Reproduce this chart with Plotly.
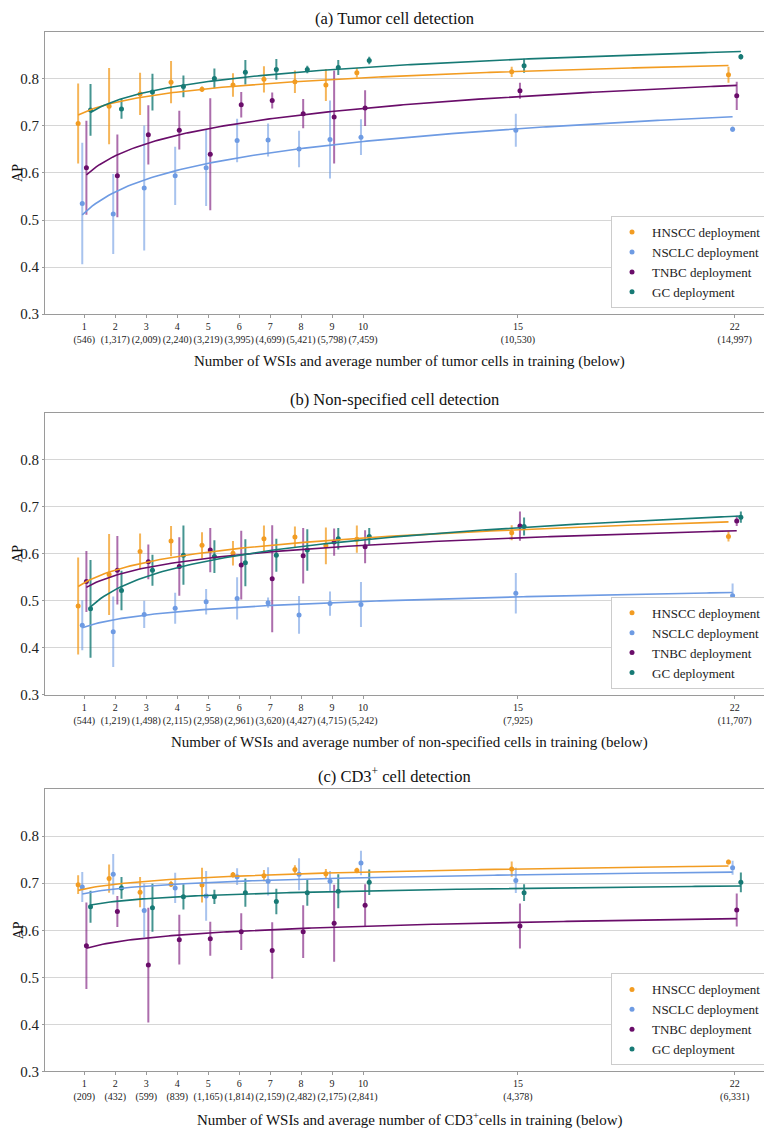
import numpy as np
import plotly.graph_objects as go

# ---------------- data ----------------
wsis = [1, 2, 3, 4, 5, 6, 7, 8, 9, 10, 15, 22]

cells_tumor = ["546", "1,317", "2,009", "2,240", "3,219", "3,995", "4,699", "5,421", "5,798", "7,459", "10,530", "14,997"]
cells_nonspec = ["544", "1,219", "1,498", "2,115", "2,958", "2,961", "3,620", "4,427", "4,715", "5,242", "7,925", "11,707"]
cells_cd3 = ["209", "432", "599", "839", "1,165", "1,814", "2,159", "2,482", "2,175", "2,841", "4,378", "6,331"]

series_names = ["HNSCC deployment", "NSCLC deployment", "TNBC deployment", "GC deployment"]

# (a) Tumor cell detection
tumor_hnscc = [0.705, 0.742, 0.768, 0.793, 0.778, 0.787, 0.799, 0.794, 0.787, 0.813, 0.815, 0.809]
tumor_hnscc_err = [0.085, 0.081, 0.045, 0.045, 0.006, 0.025, 0.028, 0.024, 0.034, 0.010, 0.011, 0.017]
tumor_nsclc = [0.535, 0.513, 0.568, 0.594, 0.611, 0.669, 0.670, 0.651, 0.671, 0.676, 0.691, 0.693]
tumor_nsclc_err = [0.129, 0.085, 0.133, 0.062, 0.081, 0.046, 0.035, 0.039, 0.083, 0.038, 0.035, 0.006]
tumor_tnbc = [0.611, 0.594, 0.681, 0.691, 0.640, 0.745, 0.754, 0.726, 0.719, 0.738, 0.775, 0.764]
tumor_tnbc_err = [0.100, 0.088, 0.063, 0.041, 0.119, 0.027, 0.017, 0.031, 0.099, 0.038, 0.017, 0.030]
tumor_gc = [0.734, 0.736, 0.772, 0.784, 0.801, 0.814, 0.820, 0.820, 0.824, 0.839, 0.828, 0.847]
tumor_gc_err = [0.055, 0.021, 0.039, 0.023, 0.021, 0.026, 0.022, 0.008, 0.016, 0.008, 0.015, 0.006]

# (b) Non-specified cell detection
nonspec_hnscc = [0.489, 0.556, 0.605, 0.627, 0.618, 0.601, 0.632, 0.636, 0.617, 0.631, 0.645, 0.637]
nonspec_hnscc_err = [0.103, 0.086, 0.038, 0.032, 0.028, 0.026, 0.028, 0.022, 0.039, 0.029, 0.016, 0.011]
nonspec_nsclc = [0.448, 0.434, 0.471, 0.484, 0.498, 0.505, 0.496, 0.470, 0.494, 0.492, 0.516, 0.511]
nonspec_nsclc_err = [0.053, 0.075, 0.029, 0.033, 0.027, 0.045, 0.011, 0.040, 0.026, 0.048, 0.043, 0.026]
nonspec_tnbc = [0.541, 0.565, 0.583, 0.573, 0.608, 0.576, 0.547, 0.596, 0.625, 0.615, 0.659, 0.670]
nonspec_tnbc_err = [0.065, 0.073, 0.037, 0.062, 0.047, 0.073, 0.114, 0.059, 0.029, 0.035, 0.031, 0.011]
nonspec_gc = [0.483, 0.522, 0.565, 0.597, 0.594, 0.581, 0.597, 0.608, 0.632, 0.637, 0.658, 0.678]
nonspec_gc_err = [0.104, 0.042, 0.033, 0.063, 0.035, 0.050, 0.035, 0.044, 0.023, 0.018, 0.019, 0.012]

# (c) CD3+ cell detection
cd3_hnscc = [0.697, 0.710, 0.681, 0.698, 0.696, 0.718, 0.716, 0.729, 0.720, 0.727, 0.730, 0.745]
cd3_hnscc_err = [0.020, 0.030, 0.032, 0.006, 0.037, 0.006, 0.012, 0.009, 0.010, 0.006, 0.016, 0.005]
cd3_nsclc = [0.692, 0.719, 0.642, 0.690, 0.673, 0.714, 0.704, 0.719, 0.704, 0.743, 0.706, 0.733]
cd3_nsclc_err = [0.032, 0.043, 0.057, 0.032, 0.053, 0.018, 0.030, 0.034, 0.022, 0.026, 0.027, 0.015]
cd3_tnbc = [0.567, 0.640, 0.526, 0.580, 0.582, 0.597, 0.557, 0.597, 0.615, 0.653, 0.609, 0.643]
cd3_tnbc_err = [0.092, 0.033, 0.122, 0.053, 0.036, 0.039, 0.060, 0.056, 0.082, 0.045, 0.048, 0.035]
cd3_gc = [0.650, 0.690, 0.648, 0.671, 0.671, 0.680, 0.661, 0.680, 0.683, 0.702, 0.680, 0.702]
cd3_gc_err = [0.034, 0.023, 0.051, 0.027, 0.015, 0.030, 0.027, 0.028, 0.036, 0.027, 0.018, 0.021]

panel_titles = ["(a) Tumor cell detection", "(b) Non-specified cell detection", "(c) CD3<sup>+</sup> cell detection"]
xlabels = [
    "Number of WSIs and average number of tumor cells in training (below)",
    "Number of WSIs and average number of non-specified cells in training (below)",
    "Number of WSIs and average number of CD3<sup>+</sup>cells in training (below)",
]
y_ticks = [0.3, 0.4, 0.5, 0.6, 0.7, 0.8]

panels = [
    (cells_tumor, [(tumor_hnscc, tumor_hnscc_err), (tumor_nsclc, tumor_nsclc_err),
                   (tumor_tnbc, tumor_tnbc_err), (tumor_gc, tumor_gc_err)]),
    (cells_nonspec, [(nonspec_hnscc, nonspec_hnscc_err), (nonspec_nsclc, nonspec_nsclc_err),
                     (nonspec_tnbc, nonspec_tnbc_err), (nonspec_gc, nonspec_gc_err)]),
    (cells_cd3, [(cd3_hnscc, cd3_hnscc_err), (cd3_nsclc, cd3_nsclc_err),
                 (cd3_tnbc, cd3_tnbc_err), (cd3_gc, cd3_gc_err)]),
]

# ---------------- style ----------------
W, H = 772, 1129
ML, MR = 37, 6
PW = W - ML - MR
FONT = "Liberation Serif, DejaVu Serif, serif"
colors = ["#F29C22", "#6E9BE3", "#6A0D6A", "#177A75"]
bar_colors = ["rgba(242,156,34,0.75)", "rgba(110,155,227,0.6)", "rgba(128,30,128,0.65)", "rgba(23,122,117,0.8)"]
offsets = [-0.2, -0.0667, 0.0667, 0.2]
# panel pixel extents (top, bottom)
panel_px = [(24, 308.3), (407.7, 691.7), (786.7, 1071)]


def py(p):
    return 1 - p / H


def px(p):
    return (p - ML) / PW


fig = go.Figure()
layout_axes = {}
annotations = []

for i, (cells, series) in enumerate(panels):
    k = "" if i == 0 else str(i + 1)
    xa, ya = "x" + k, "y" + k
    leg = "legend" + k
    ticktext = [f"{w}<br>({c})" for w, c in zip(wsis, cells)]
    for s, (ap, err) in enumerate(series):
        xs = np.array(wsis, dtype=float) + offsets[s]
        fig.add_trace(go.Scatter(
            x=xs, y=ap, mode="markers", name=series_names[s],
            marker=dict(color=colors[s], size=5),
            error_y=dict(type="data", array=err, visible=True, color=bar_colors[s], thickness=2, width=0),
            xaxis=xa, yaxis=ya, legend=leg, showlegend=True,
        ))
    for s, (ap, err) in enumerate(series):
        coef = np.polyfit(np.log(wsis), ap, 1)
        xx = np.linspace(wsis[0], wsis[-1], 200)
        yy = coef[1] + coef[0] * np.log(xx)
        fig.add_trace(go.Scatter(
            x=xx + offsets[s], y=yy, mode="lines", line=dict(color=colors[s], width=1.6),
            xaxis=xa, yaxis=ya, showlegend=False, hoverinfo="skip",
        ))
    top, bot = panel_px[i]
    layout_axes["xaxis" + k] = dict(
        domain=[0, 1], anchor=ya, range=[-0.27, 23.27], tickvals=wsis, ticktext=ticktext,
        tickangle=0,
        tickfont=dict(size=10, family=FONT, color="#222"), showgrid=False, zeroline=False,
        showline=True, linecolor="#9a9a9a", linewidth=1, mirror=True,
        ticks="outside", ticklen=3, tickcolor="#9a9a9a",
    )
    layout_axes["yaxis" + k] = dict(
        domain=[py(bot), py(top)], anchor=xa, range=[0.3, 0.9], tickvals=y_ticks,
        ticktext=[f"{v:.1f}" for v in y_ticks],
        tickfont=dict(size=15, family=FONT, color="#222"), showgrid=True, gridcolor="#d6d6d6",
        zeroline=False, showline=True, linecolor="#9a9a9a", linewidth=1, mirror=True,
        ticks="outside", ticklen=2, tickcolor="#9a9a9a",
    )
    layout_axes[leg] = dict(
        x=px(759), y=py(bot - 6), xanchor="right", yanchor="bottom",
        bgcolor="white", bordercolor="#cccccc", borderwidth=1,
        font=dict(size=13, family=FONT, color="#222"), tracegroupgap=0,
    )
    annotations.append(dict(text=panel_titles[i], x=px(386), y=py(top - 13.5), xref="paper", yref="paper",
                            showarrow=False, font=dict(size=16.5, family=FONT, color="#111"),
                            xanchor="center", yanchor="middle"))
    annotations.append(dict(text=xlabels[i], x=0.5, y=py(bot + 48), xref="paper", yref="paper",
                            showarrow=False, font=dict(size=15, family=FONT, color="#111"),
                            xanchor="center", yanchor="middle"))
    annotations.append(dict(text="AP", x=px(10), y=py((top + bot) / 2), xref="paper", yref="paper",
                            showarrow=False, textangle=-90, font=dict(size=14, family=FONT, color="#111"),
                            xanchor="center", yanchor="middle"))

fig.update_layout(
    width=W, height=H, margin=dict(l=ML, r=MR, t=0, b=0),
    plot_bgcolor="white", paper_bgcolor="white",
    annotations=annotations, **layout_axes,
)

fig.write_html("out.html")
